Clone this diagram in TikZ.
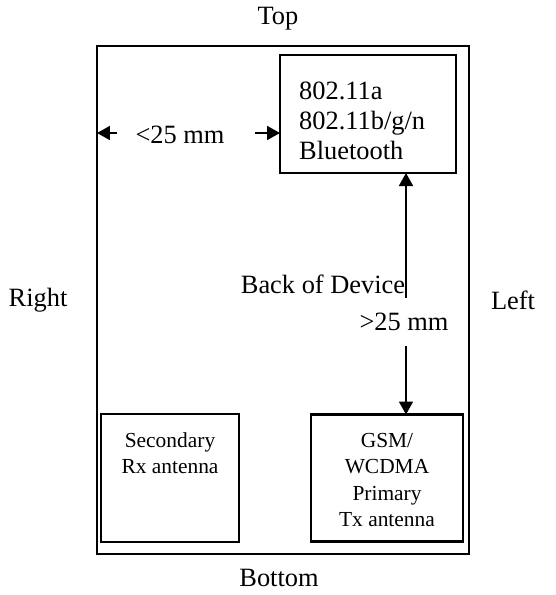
\documentclass[tikz,border=0pt]{standalone}
\usepackage{fontspec}
\setmainfont{Liberation Serif}
\usetikzlibrary{arrows.meta}
\begin{document}
\begin{tikzpicture}[x=1bp,y=-1bp,
  box/.style={draw, line width=2.2bp, inner sep=0pt, outer sep=0pt},
  arr/.style={line width=1.8bp, -{Triangle[length=13bp,width=14bp]}},
  big/.style={font=\fontsize{26.5}{30}\selectfont, inner sep=0pt},
  small/.style={font=\fontsize{21.5}{26.5}\selectfont, align=center, inner sep=0pt}]
\useasboundingbox (0,0) rectangle (556,595);
\node[box, minimum width=372bp, minimum height=508bp] (outer) at (283,300) {};
\node[box, minimum width=176bp, minimum height=118bp] (wifi) at (368,114) {};
\node[box, minimum width=152bp, minimum height=127bp] (gsm) at (387,478) {};
\node[box, minimum width=138bp, minimum height=128bp] (sec) at (170,478) {};
\node[big, align=left, anchor=west] (wifitext) at (299,121) {802.11a\\802.11b/g/n\\Bluetooth};
\node[small] (sectext) at (170,453) {Secondary\\Rx antenna};
\node[small] (gsmtext) at (387,480) {GSM/\\WCDMA\\Primary\\Tx antenna};
\node[big] (top) at (278,19) {Top};
\node[big] (bottom) at (279,578) {Bottom};
\node[big] (right) at (38,300) {Right};
\node[big] (left) at (513,300) {Left};
\node[big] (back) at (323,284) {Back of Device};
\node[big] (lt) at (180,135) {<25 mm};
\node[big] (gt) at (404,322) {>25 mm};
\coordinate (ltl) at (117,133);
\coordinate (ltr) at (255,133);
\coordinate (gtu) at (406,298);
\coordinate (gtd) at (406,346);
\draw[arr] (ltl) -- (outer.west |- ltl);
\draw[arr] (ltr) -- (wifi.west |- ltr);
\draw[arr] (gtu) -- (gtu |- wifi.south);
\draw[arr] (gtd) -- (gtd |- gsm.north);
\end{tikzpicture}
\end{document}
